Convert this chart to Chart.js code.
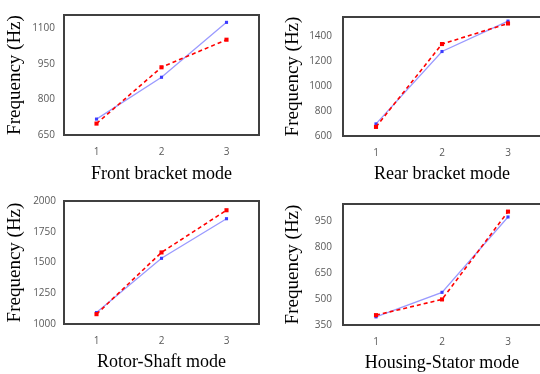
<!DOCTYPE html>
<html>
<head>
<meta charset="utf-8">
<script src="https://cdn.jsdelivr.net/npm/chart.js@4.4.1/dist/chart.umd.min.js"></script>
<style>
  html, body { margin: 0; padding: 0; background: #fff; }
  body { width: 540px; height: 374px; overflow: hidden; position: relative; }
  canvas { position: absolute; }
</style>
</head>
<body>
<canvas id="front" width="270" height="187" style="left:0;top:0"></canvas>
<canvas id="rear" width="280" height="187" style="left:270px;top:0"></canvas>
<canvas id="rotor" width="270" height="187" style="left:0;top:187px"></canvas>
<canvas id="housing" width="280" height="187" style="left:270px;top:187px"></canvas>
<script>
// mode numbers on the x axis
const modes = ["1", "2", "3"];

// blue solid series / red dashed series, Hz
const frontBlue = [717, 893, 1124];
const frontRed = [698, 935, 1051];
const frontTicks = [650, 800, 950, 1100];

const rearBlue = [697, 1278, 1522];
const rearRed = [673, 1338, 1503];
const rearTicks = [600, 800, 1000, 1200, 1400];

const rotorBlue = [1093, 1534, 1856];
const rotorRed = [1080, 1582, 1925];
const rotorTicks = [1000, 1250, 1500, 1750, 2000];

const housingBlue = [397, 539, 975];
const housingRed = [407, 498, 1006];
const housingTicks = [350, 500, 650, 800, 950];

const tickFont = { family: "'Open Sans', 'Noto Sans', sans-serif", size: 10 };
const serif = "'Liberation Serif', 'Times New Roman', serif";

// box around the plot area
const framePlugin = {
  id: "frame",
  beforeDatasetsDraw(chart) {
    const a = chart.chartArea;
    const ctx = chart.ctx;
    ctx.save();
    ctx.strokeStyle = "#404040";
    ctx.lineWidth = 2;
    ctx.strokeRect(a.left, a.top, a.right - a.left, a.bottom - a.top);
    ctx.restore();
  }
};

function panel(id, title, blue, red, yMin, yMax, yTicks, box) {
  const el = document.getElementById(id);
  if (!el) return;

  new Chart(el.getContext("2d"), {
    type: "line",
    data: {
      labels: modes,
      datasets: [
        {
          data: red,
          borderColor: "#ff0000",
          borderWidth: 1.6,
          borderDash: [4, 3],
          pointStyle: "rect",
          pointRadius: 2.9,
          pointBackgroundColor: "#ff0000",
          pointBorderWidth: 0,
          clip: false
        },
        {
          data: blue,
          borderColor: "#9a9aff",
          borderWidth: 1.3,
          pointStyle: "rect",
          pointRadius: 2.2,
          pointBackgroundColor: "#3c3cff",
          pointBorderWidth: 0,
          clip: false
        }
      ]
    },
    options: {
      responsive: false,
      animation: false,
      layout: { padding: { top: box.top, right: box.right, left: 0, bottom: 0 } },
      plugins: { legend: { display: false }, tooltip: { enabled: false } },
      scales: {
        x: {
          offset: true,
          grid: { display: false, drawTicks: false },
          border: { display: false },
          ticks: { color: "#595959", font: tickFont, padding: 11 },
          title: {
            display: true,
            text: title,
            color: "#000",
            font: { family: serif, size: 18 },
            padding: { top: 0, bottom: box.xTitle }
          },
          afterFit: (s) => { s.height = box.xh; }
        },
        y: {
          min: yMin,
          max: yMax,
          grid: { display: false, drawTicks: false },
          border: { display: false },
          ticks: {
            color: "#595959",
            font: tickFont,
            padding: box.tickPad,
            callback: (v) => String(v)
          },
          afterBuildTicks: (s) => { s.ticks = yTicks.map((v) => ({ value: v })); },
          title: {
            display: true,
            text: "Frequency (Hz)",
            color: "#000",
            font: { family: serif, size: 19 },
            padding: { top: box.yTitle, bottom: 0 }
          },
          afterFit: (s) => { s.width = box.left; }
        }
      }
    },
    plugins: [framePlugin]
  });
}

panel("front", "Front bracket mode", frontBlue, frontRed, 650, 1155, frontTicks,
  { top: 7, right: 11, left: 64, xh: 52, tickPad: 9, yTitle: 4, xTitle: 2 });
panel("rear", "Rear bracket mode", rearBlue, rearRed, 600, 1555, rearTicks,
  { top: 8, right: 9, left: 73, xh: 51, tickPad: 11, yTitle: 12, xTitle: 2 });
panel("rotor", "Rotor-Shaft mode", rotorBlue, rotorRed, 1000, 2000, rotorTicks,
  { top: 9, right: 11, left: 64, xh: 50, tickPad: 8, yTitle: 4, xTitle: 1 });
panel("housing", "Housing-Stator mode", housingBlue, housingRed, 350, 1050, housingTicks,
  { top: 10, right: 9, left: 73, xh: 49, tickPad: 11, yTitle: 12, xTitle: 0 });
</script>
</body>
</html>
